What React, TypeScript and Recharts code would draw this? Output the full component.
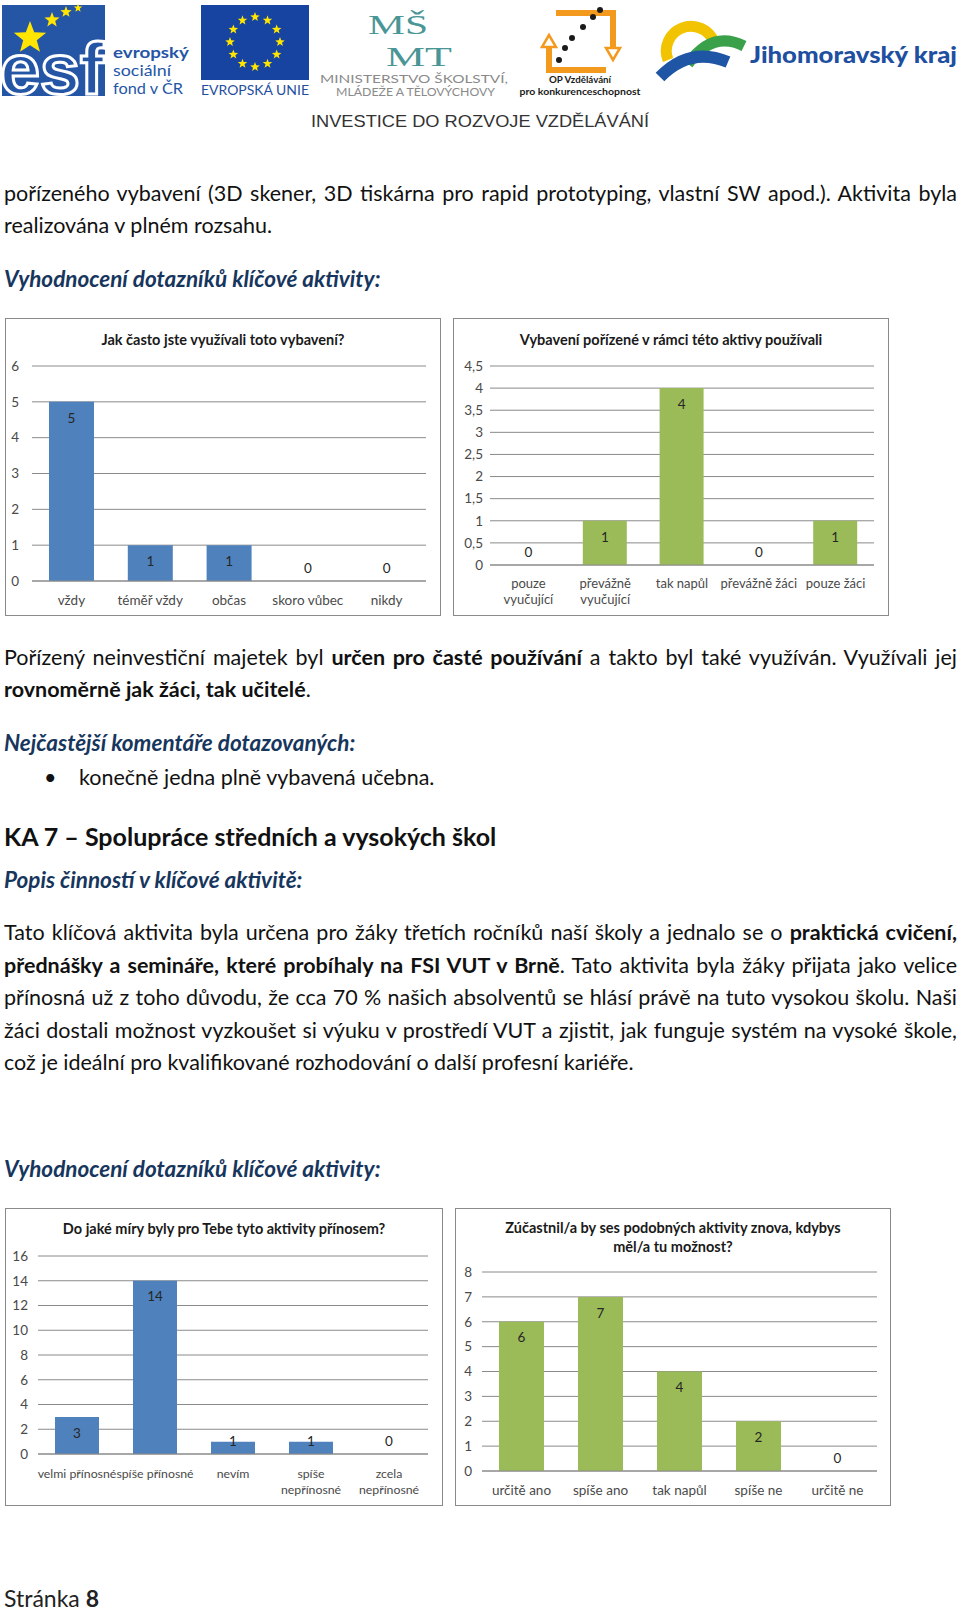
import React from 'react';
import { BarChart, Bar, XAxis, YAxis, CartesianGrid, LabelList } from 'recharts';

const FONT = 'Lato, "Noto Sans", sans-serif';

// ---- Chart 1 ----
const chart1Title = ['Jak často jste využívali toto vybavení?'];
const chart1Categories = ['vždy', 'téměř vždy', 'občas', 'skoro vůbec', 'nikdy'];
const chart1Values = [5, 1, 1, 0, 0];
const chart1Ticks = [0, 1, 2, 3, 4, 5, 6];

// ---- Chart 2 ----
const chart2Title = ['Vybavení pořízené v rámci této aktivy používali'];
const chart2Categories = ['pouze\nvyučující', 'převážně\nvyučující', 'tak napůl', 'převážně žáci', 'pouze žáci'];
const chart2Values = [0, 1, 4, 0, 1];
const chart2Ticks = [0, 0.5, 1, 1.5, 2, 2.5, 3, 3.5, 4, 4.5];

// ---- Chart 3 ----
const chart3Title = ['Do jaké míry byly pro Tebe tyto aktivity přínosem?'];
const chart3Categories = ['velmi přínosné', 'spíše přínosné', 'nevím', 'spíše\nnepřínosné', 'zcela\nnepřínosné'];
const chart3Values = [3, 14, 1, 1, 0];
const chart3Ticks = [0, 2, 4, 6, 8, 10, 12, 14, 16];

// ---- Chart 4 ----
const chart4Title = ['Zúčastnil/a by ses podobných aktivity znova, kdybys', 'měl/a tu možnost?'];
const chart4Categories = ['určitě ano', 'spíše ano', 'tak napůl', 'spíše ne', 'určitě ne'];
const chart4Values = [6, 7, 4, 2, 0];
const chart4Ticks = [0, 1, 2, 3, 4, 5, 6, 7, 8];

const BLUE = '#4F81BD';
const GREEN = '#9BBB59';
const GRID = '#8a8a8a';
const AXIS_TEXT = '#4a4a4a';
const LABEL_TEXT = '#262626';
const CH_FS = 13.5;

type Box = { x: number; y: number; w: number; h: number };
type Plot = { t: number; b: number; l: number; r: number };

function XTick(props: any) {
  const { x, y, payload, dy, vals, index, fs } = props;
  const lines = String(payload.value).split('\n');
  const v = vals ? vals[index] : undefined;
  return (
    <g>
      {v === 0 && (
        <text x={x} y={y - 13} dy="0.35em" textAnchor="middle" fill={LABEL_TEXT} fontSize={CH_FS} fontFamily={FONT}>
          0
        </text>
      )}
      {lines.map((ln: string, i: number) => (
        <text key={i} x={x} y={y + dy + i * 16} dy="0.35em" textAnchor="middle" fill={AXIS_TEXT} fontSize={fs} fontFamily={FONT}>
          {ln}
        </text>
      ))}
    </g>
  );
}

function renderLabel(props: any) {
  if (Number(props.value) === 0) return null;
  const vb = props.viewBox && props.viewBox.width !== undefined ? props.viewBox : props;
  const x = Number(vb.x);
  const y = Number(vb.y);
  const w = Number(vb.width);
  const h = Number(vb.height);
  const top = Math.min(y, y + h);
  const bottom = Math.max(y, y + h);
  const cy = Math.min(top + 16, bottom - 13);
  return (
    <text x={x + w / 2} y={cy} dy="0.35em" textAnchor="middle" fill={LABEL_TEXT} fontSize={CH_FS} fontFamily={FONT}>
      {props.value}
    </text>
  );
}

function Chart(props: {
  box: Box; plot: Plot; title: string[]; titleY: number[]; cats: string[]; vals: number[];
  color: string; ticks: number[]; barSize: number; yGap: number; xDy: number; comma?: boolean; xFs?: number;
}) {
  const { box, plot, title, titleY, cats, vals, color, ticks, barSize, yGap, xDy, comma, xFs = CH_FS } = props;
  const data = cats.map((name, i) => ({ name, value: vals[i] }));
  return (
    <div style={{ position: 'absolute', left: box.x, top: box.y, width: box.w, height: box.h, background: '#fff' }}>
      <BarChart width={box.w} height={box.h} data={data} margin={{ top: plot.t, right: box.w - plot.r, bottom: 0, left: 0 }}>
        <CartesianGrid vertical={false} stroke={GRID} />
        <XAxis
          dataKey="name"
          height={box.h - plot.b}
          interval={0}
          tickLine={false}
          tickSize={0}
          tickMargin={0}
          axisLine={{ stroke: GRID }}
          tick={(p: any) => <XTick {...p} dy={xDy} vals={vals} fs={xFs} />}
        />
        <YAxis
          width={plot.l}
          domain={[ticks[0], ticks[ticks.length - 1]]}
          ticks={ticks}
          interval={0}
          axisLine={false}
          tickLine={false}
          tickSize={0}
          tickMargin={yGap}
          tick={{ fill: AXIS_TEXT, fontSize: CH_FS, fontFamily: FONT }}
          tickFormatter={(v: number) => (comma ? String(v).replace('.', ',') : String(v))}
        />
        <Bar dataKey="value" fill={color} barSize={barSize} isAnimationActive={false}>
          <LabelList dataKey="value" content={renderLabel} />
        </Bar>
      </BarChart>
      {title.map((t, i) => (
        <div key={i} style={{ position: 'absolute', left: 0, width: box.w, top: titleY[i] - 10, height: 20, lineHeight: '20px', textAlign: 'center', fontFamily: FONT, fontWeight: 700, fontSize: 14.5, color: '#1a1a1a', whiteSpace: 'nowrap' }}>
          {t}
        </div>
      ))}
      <div style={{ position: 'absolute', left: 0, top: 0, width: box.w, height: box.h, boxSizing: 'border-box', border: '1.5px solid #8a8a8a', pointerEvents: 'none' }} />
    </div>
  );
}

function Line(props: { y: number; children: React.ReactNode; justify?: boolean; left?: number; width?: number; size?: number; lh?: number; style?: React.CSSProperties }) {
  const { y, children, justify, left = 4, width = 953, size = 21.5, lh = 32, style } = props;
  return (
    <div
      style={{
        position: 'absolute', left, width, top: y - lh / 2, height: lh, lineHeight: `${lh}px`, fontSize: size, fontFamily: FONT,
        color: '#111', textAlign: justify ? 'justify' : 'left', textAlignLast: justify ? 'justify' : 'auto', whiteSpace: 'normal', overflow: 'visible',
        ...style,
      }}
    >
      {children}
    </div>
  );
}

const starPoints = (cx: number, cy: number, r: number) =>
  Array.from({ length: 10 }, (_, i) => {
    const a = -Math.PI / 2 + (i * Math.PI) / 5;
    const rr = i % 2 === 0 ? r : r * 0.42;
    return `${(cx + rr * Math.cos(a)).toFixed(2)},${(cy + rr * Math.sin(a)).toFixed(2)}`;
  }).join(' ');

function Header() {
  const euStars = Array.from({ length: 12 }, (_, i) => {
    const a = (i * Math.PI) / 6;
    return [255 + 25 * Math.cos(a), 42 + 25 * Math.sin(a)];
  });
  return (
    <svg width={960} height={135} style={{ position: 'absolute', left: 0, top: 0 }}>
      {/* ESF */}
      <rect x={2} y={5} width={103} height={91} fill="#2556a6" />
      <text x={0} y={94} fontSize={72} fontWeight={700} fontFamily="Liberation Sans, Arial" fill="#2556a6" stroke="#fff" strokeWidth={3} textLength={104} lengthAdjust="spacingAndGlyphs">esf</text>
      <polygon points={starPoints(30, 38, 17)} fill="#ffe500" />
      <polygon points={starPoints(52, 20, 8)} fill="#ffe500" />
      <polygon points={starPoints(66, 12, 6)} fill="#ffe500" />
      <polygon points={starPoints(78, 8, 4.5)} fill="#ffe500" />
      <text x={113} y={58} fontSize={16} fontWeight={700} fontFamily={FONT} fill="#2556a6" textLength={76} lengthAdjust="spacingAndGlyphs">evropský</text>
      <text x={113} y={76} fontSize={16} fontFamily={FONT} fill="#2556a6" textLength={58} lengthAdjust="spacingAndGlyphs">sociální</text>
      <text x={113} y={94} fontSize={16} fontFamily={FONT} fill="#2556a6" textLength={70} lengthAdjust="spacingAndGlyphs">fond v ČR</text>
      {/* EU */}
      <rect x={201} y={5} width={108} height={75} fill="#1744a0" />
      {euStars.map((p, i) => (
        <polygon key={i} points={starPoints(p[0], p[1], 5)} fill="#ffe500" />
      ))}
      <text x={255} y={95} fontSize={13} fontFamily={FONT} fill="#1f4e9e" textAnchor="middle" textLength={108} lengthAdjust="spacingAndGlyphs">EVROPSKÁ UNIE</text>
      {/* MSMT */}
      <text x={368} y={34} fontSize={28} fontFamily="Liberation Serif, serif" fill="#4a9696" textLength={60} lengthAdjust="spacingAndGlyphs">MŠ</text>
      <text x={386} y={66} fontSize={28} fontFamily="Liberation Serif, serif" fill="#4a9696" textLength={66} lengthAdjust="spacingAndGlyphs">MT</text>
      <text x={320} y={83} fontSize={11.5} fontFamily={FONT} fill="#8a8a8a" textLength={188} lengthAdjust="spacingAndGlyphs">MINISTERSTVO ŠKOLSTVÍ,</text>
      <text x={336} y={96} fontSize={11.5} fontFamily={FONT} fill="#8a8a8a" textLength={159} lengthAdjust="spacingAndGlyphs">MLÁDEŽE A TĚLOVÝCHOVY</text>
      {/* OP */}
      <path d="M 556 13 L 613 13 L 613 50" fill="none" stroke="#f39a1e" strokeWidth={6} />
      <polygon points="606,48 620,48 613,60" fill="#fff" stroke="#f39a1e" strokeWidth={2.5} />
      <path d="M 549 46 L 549 70 L 606 70" fill="none" stroke="#f39a1e" strokeWidth={6} />
      <polygon points="542,47 556,47 549,35" fill="#fff" stroke="#f39a1e" strokeWidth={2.5} />
      {[[559, 60], [565, 48], [572, 38], [583, 27], [593, 17], [600, 10]].map((d, i) => (
        <circle key={i} cx={d[0]} cy={d[1]} r={3} fill="#1a1a1a" />
      ))}
      <text x={580} y={83} fontSize={10} fontWeight={700} fontFamily={FONT} fill="#1a1a1a" textAnchor="middle" textLength={62} lengthAdjust="spacingAndGlyphs">OP Vzdělávání</text>
      <text x={580} y={95} fontSize={10} fontWeight={700} fontFamily={FONT} fill="#1a1a1a" textAnchor="middle" textLength={121} lengthAdjust="spacingAndGlyphs">pro konkurenceschopnost</text>
      {/* Jihomoravsky kraj */}
      <path d="M 668 60 A 24 24 0 1 1 714 42" fill="none" stroke="#f2c300" strokeWidth={11} />
      <path d="M 688 64 Q 712 30 744 46" fill="none" stroke="#3aa04a" strokeWidth={11} />
      <path d="M 660 77 Q 690 46 728 62" fill="none" stroke="#1f55a5" strokeWidth={12} />
      <text x={750} y={63} fontSize={22} fontWeight={900} fontFamily={FONT} fill="#1e4fa0" textLength={207} lengthAdjust="spacingAndGlyphs">Jihomoravský kraj</text>
      <text x={480} y={127} fontSize={17} fontFamily="Liberation Sans, Arial" fill="#333" textAnchor="middle" textLength={338} lengthAdjust="spacingAndGlyphs">INVESTICE DO ROZVOJE VZDĚLÁVÁNÍ</text>
    </svg>
  );
}

const NAVY = '#17365D';
const heading: React.CSSProperties = { color: NAVY, fontWeight: 700, fontStyle: 'italic', fontSize: 22.5 };

export default function App() {
  return (
    <div style={{ position: 'absolute', left: 0, top: 0, width: 960, height: 1613, background: '#fff', overflow: 'hidden', fontFamily: FONT }}>
      <Header />
      <Line y={193} justify>pořízeného vybavení (3D skener, 3D tiskárna pro rapid prototyping, vlastní SW apod.). Aktivita byla</Line>
      <Line y={225}>realizována v plném rozsahu.</Line>
      <Line y={279} style={heading}>Vyhodnocení dotazníků klíčové aktivity:</Line>

      <Chart box={{ x: 5, y: 318, w: 436, h: 298 }} plot={{ t: 48, b: 263, l: 27, r: 421 }} title={chart1Title} titleY={[22]}
        cats={chart1Categories} vals={chart1Values} color={BLUE} ticks={chart1Ticks} barSize={45} yGap={13} xDy={19} />
      <Chart box={{ x: 453, y: 318, w: 436, h: 298 }} plot={{ t: 48, b: 247, l: 37, r: 421 }} title={chart2Title} titleY={[22]}
        cats={chart2Categories} vals={chart2Values} color={GREEN} ticks={chart2Ticks} barSize={44} yGap={7} xDy={18} comma xFs={13} />

      <Line y={657} justify>Pořízený neinvestiční majetek byl <b>určen pro časté používání</b> a takto byl také využíván. Využívali jej</Line>
      <Line y={689}><b>rovnoměrně jak žáci, tak učitelé</b>.</Line>
      <Line y={743} style={heading}>Nejčastější komentáře dotazovaných:</Line>
      <Line y={777} left={44}>•</Line>
      <Line y={777} left={79} width={800}>konečně jedna plně vybavená učebna.</Line>
      <Line y={836} size={25} style={{ fontWeight: 700 }}>KA 7 – Spolupráce středních a vysokých škol</Line>
      <Line y={880} style={heading}>Popis činností v klíčové aktivitě:</Line>
      <Line y={932} justify>Tato klíčová aktivita byla určena pro žáky třetích ročníků naší školy a jednalo se o <b>praktická cvičení,</b></Line>
      <Line y={965} justify><b>přednášky a semináře, které probíhaly na FSI VUT v Brně</b>. Tato aktivita byla žáky přijata jako velice</Line>
      <Line y={997} justify>přínosná už z toho důvodu, že cca 70 % našich absolventů se hlásí právě na tuto vysokou školu. Naši</Line>
      <Line y={1030} justify>žáci dostali možnost vyzkoušet si výuku v prostředí VUT a zjistit, jak funguje systém na vysoké škole,</Line>
      <Line y={1062}>což je ideální pro kvalifikované rozhodování o další profesní kariéře.</Line>
      <Line y={1169} style={heading}>Vyhodnocení dotazníků klíčové aktivity:</Line>

      <Chart box={{ x: 5, y: 1208, w: 438, h: 298 }} plot={{ t: 48, b: 246, l: 33, r: 423 }} title={chart3Title} titleY={[21]}
        cats={chart3Categories} vals={chart3Values} color={BLUE} ticks={chart3Ticks} barSize={44} yGap={10} xDy={20} xFs={12.3} />
      <Chart box={{ x: 455, y: 1208, w: 436, h: 298 }} plot={{ t: 64, b: 263, l: 27, r: 422 }} title={chart4Title} titleY={[20, 39]}
        cats={chart4Categories} vals={chart4Values} color={GREEN} ticks={chart4Ticks} barSize={45} yGap={10} xDy={19} />

      <Line y={1598} size={23} lh={26} style={{ color: '#222' }}>Stránka <b>8</b></Line>
    </div>
  );
}
